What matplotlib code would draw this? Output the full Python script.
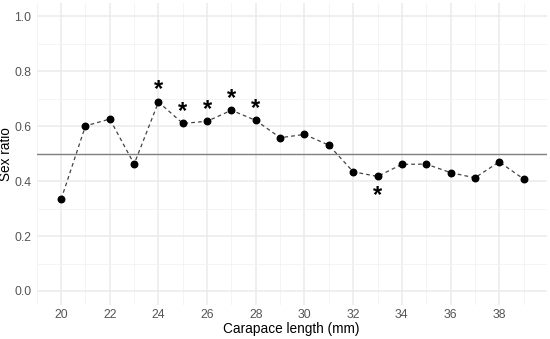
import matplotlib
matplotlib.use("Agg")
import matplotlib.pyplot as plt
import numpy as np

plt.rcParams['font.family'] = ['Liberation Sans', 'DejaVu Sans']

# carapace length (mm) and sex ratio
length = [20, 21, 22, 23, 24, 25, 26, 27, 28, 29,
          30, 31, 32, 33, 34, 35, 36, 37, 38, 39]
ratio = [0.334, 0.601, 0.626, 0.462, 0.688, 0.610, 0.618, 0.658, 0.621, 0.558,
         0.570, 0.531, 0.434, 0.417, 0.461, 0.462, 0.431, 0.412, 0.470, 0.408]
# significant lengths: +1 star above the point, -1 star below
sig_len = [24, 25, 26, 27, 28, 33]
sig_side = [1, 1, 1, 1, 1, -1]

fig = plt.figure(figsize=(5.5, 3.39), dpi=100)
ax = fig.add_axes([0.0669, 0.1012, 0.927, 0.8911])

ax.set_xlim(19.05, 39.95)
ax.set_ylim(-0.05, 1.05)
ax.set_xticks(np.arange(20, 39, 2))
ax.set_xticks(np.arange(19, 40, 2), minor=True)
ax.set_yticks(np.arange(0, 1.01, 0.2))
ax.set_yticks(np.arange(0.1, 1.0, 0.2), minor=True)
ax.set_yticklabels([f"{v:.1f}" for v in np.arange(0, 1.01, 0.2)])

ax.grid(which='major', color='#EBEBEB', linewidth=1.1)
ax.grid(which='minor', color='#F2F2F2', linewidth=0.6)
ax.set_axisbelow(True)
for s in ax.spines.values():
    s.set_visible(False)
ax.tick_params(which='both', length=0, labelsize=8.8, labelcolor='#555555', pad=3)
ax.tick_params(axis='y', pad=4)

ax.axhline(0.5, color='#7F7F7F', linewidth=1.0, zorder=2)
ax.plot(length, ratio, linestyle=(0, (3, 2.5)), color='#444444', linewidth=0.9, zorder=3)
ax.scatter(length, ratio, s=22, color='black', zorder=4)

for x, side in zip(sig_len, sig_side):
    y = ratio[length.index(x)] + (0.044 if side > 0 else -0.07)
    ax.text(x, y, "*", ha='center', va='center', fontsize=17, fontweight='bold', color='black')

ax.set_xlabel("Carapace length (mm)", fontsize=9.8, labelpad=1)
ax.set_ylabel("Sex ratio", fontsize=9.8)
ax.yaxis.set_label_coords(-0.046, 0.5)

fig.savefig("out.png", dpi=100)
